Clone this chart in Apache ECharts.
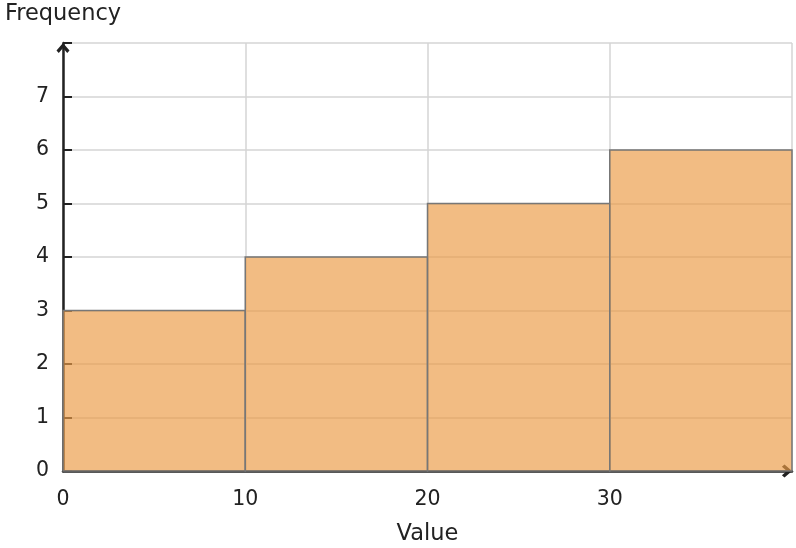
<!DOCTYPE html>
<html>
<head>
<meta charset="utf-8">
<script src="https://cdn.jsdelivr.net/npm/echarts@6/dist/echarts.min.js"></script>
<style>
  html, body { margin: 0; padding: 0; background: #fff; }
  #chart { width: 796px; height: 548px; }
</style>
</head>
<body>
<div id="chart"></div>
<script>
// histogram bins and counts
var binStarts = [0, 10, 20, 30];
var binEnds = [10, 20, 30, 40];
var counts = [3, 4, 5, 6];
var xTicks = [0, 10, 20, 30];
var yTicks = [0, 1, 2, 3, 4, 5, 6, 7];

var data = [];
for (var i = 0; i < counts.length; i++) {
    data.push([binStarts[i], binEnds[i], counts[i]]);
}

// open chevron arrow head
var chevron = 'path://M0,0 L6,7 L3.9,9.4 L0,4.8 L-3.9,9.4 L-6,7 Z';

var myChart = echarts.init(document.getElementById('chart'));
var option = {
    animation: false,
    textStyle: { fontFamily: 'DejaVu Sans' },
    grid: { left: 63, right: 4, top: 43, bottom: 77, outerBoundsMode: 'none' },
    xAxis: {
        type: 'value',
        min: 0,
        max: 40,
        interval: 10,
        name: 'Value',
        nameLocation: 'middle',
        nameGap: 52,
        nameTextStyle: { fontSize: 22.5, color: '#222' },
        axisLine: {
            show: true,
            symbol: ['none', chevron],
            symbolSize: [13, 11],
            symbolOffset: [0, -5],
            lineStyle: { color: '#222', width: 2.5 }
        },
        axisTick: { show: false },
        axisLabel: {
            fontSize: 20.5,
            color: '#222',
            margin: 18,
            formatter: function(v) {
                return xTicks.indexOf(v) >= 0 ? String(v) : '';
            }
        },
        splitLine: { show: true, lineStyle: { color: '#d4d4d4', width: 1.5 } }
    },
    yAxis: {
        type: 'value',
        min: 0,
        max: 8,
        interval: 1,
        name: 'Frequency',
        nameLocation: 'end',
        nameGap: 17,
        nameTextStyle: { fontSize: 22.5, color: '#222' },
        axisLine: {
            show: true,
            symbol: ['none', chevron],
            symbolSize: [13, 11],
            symbolOffset: [0, -5],
            lineStyle: { color: '#222', width: 2.5 }
        },
        axisTick: {
            show: true,
            inside: true,
            length: 9,
            lineStyle: { color: '#222', width: 2 }
        },
        axisLabel: {
            fontSize: 20.5,
            color: '#222',
            margin: 14,
            padding: [4, 0, 0, 0],
            formatter: function(v) {
                return yTicks.indexOf(v) >= 0 ? String(v) : '';
            }
        },
        splitLine: { show: true, lineStyle: { color: '#d4d4d4', width: 1.5 } }
    },
    series: [{
        type: 'custom',
        data: data,
        encode: { x: [0, 1], y: 2 },
        renderItem: function(params, api) {
            var p0 = api.coord([api.value(0), 0]);
            var p1 = api.coord([api.value(1), api.value(2)]);
            return {
                type: 'rect',
                shape: {
                    x: p0[0],
                    y: p1[1],
                    width: p1[0] - p0[0],
                    height: p0[1] - p1[1]
                },
                style: {
                    fill: 'rgba(236,155,70,0.67)',
                    stroke: '#777',
                    lineWidth: 1.5
                }
            };
        }
    }]
};
myChart.setOption(option);
</script>
</body>
</html>
